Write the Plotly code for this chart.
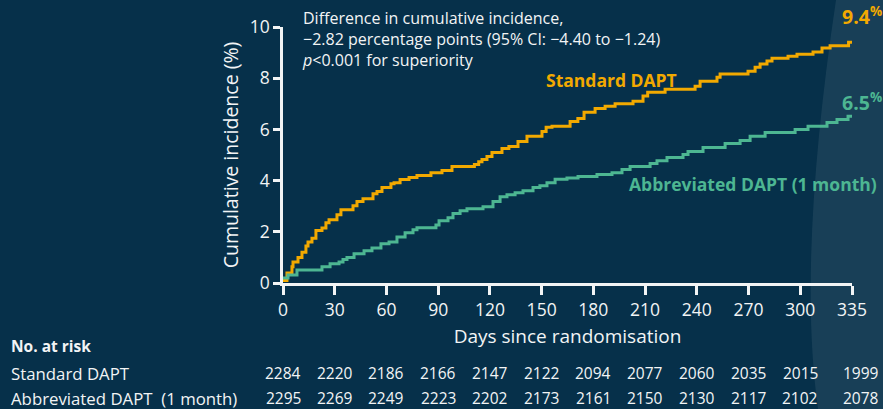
import plotly.graph_objects as go

# ---------------- data ----------------
std_days = [0, 2.3, 5.2, 5.8, 8.7, 11, 13.3, 14.5, 16.8, 19.1, 22.6, 24.9, 26.7, 31.3, 33.6,
            40.6, 42.9, 46.4, 52.2, 54.5, 57.4, 62.6, 64.4, 67.9, 73.1, 77.7, 85.8, 92.2, 98,
            111, 113.5, 115.4, 118.3, 121.2, 127, 131, 136.3, 141.5, 150.2, 152.6, 156, 166.5,
            171, 174.6, 181, 186.8, 192.6, 203, 208.8, 211.5, 221.6, 239, 241.9, 251.7, 253.5,
            269.7, 273.8, 276.7, 280.7, 283.6, 292.9, 298.1, 307.4, 312.6, 317.3, 328, 330]
std_pct = [0.1, 0.39, 0.63, 0.82, 1.0, 1.2, 1.45, 1.6, 1.75, 2.05, 2.15, 2.35, 2.47, 2.67, 2.86,
           3.02, 3.18, 3.29, 3.49, 3.57, 3.73, 3.88, 3.92, 4.04, 4.12, 4.2, 4.31, 4.39, 4.55,
           4.63, 4.74, 4.82, 4.94, 5.1, 5.25, 5.33, 5.53, 5.73, 5.92, 6.08, 6.12, 6.31,
           6.43, 6.67, 6.82, 6.9, 7.0, 7.1, 7.3, 7.45, 7.57, 7.69, 7.88, 8.04, 8.16,
           8.27, 8.43, 8.55, 8.67, 8.78, 8.86, 8.94, 9.02, 9.18, 9.27, 9.4, 9.4]

abb_days = [0, 2.9, 8.1, 22.6, 27.3, 32.5, 34.8, 37.1, 41.2, 47, 51.6, 56.8, 61.5, 66.1, 70.8,
            75.4, 77.7, 88.7, 90.5, 95.7, 98.6, 102.7, 106.7, 116, 121.8, 125.9, 129.9, 134.6,
            139.2, 145, 149, 153.1, 157.8, 164.7, 171.1, 182.1, 190.8, 196.6, 201.3, 212.9,
            216.9, 222.7, 232, 234.9, 243.6, 256.4, 265.1, 270.9, 279.6, 297, 304.5, 315.5,
            321.3, 327.7, 330]
abb_pct = [0.2, 0.31, 0.51, 0.63, 0.75, 0.82, 0.92, 1.0, 1.14, 1.26, 1.37, 1.53, 1.6, 1.8, 1.96,
           2.08, 2.16, 2.27, 2.43, 2.55, 2.71, 2.82, 2.9, 2.98, 3.18, 3.37, 3.45, 3.53,
           3.6, 3.73, 3.8, 3.92, 4.05, 4.1, 4.16, 4.24, 4.31, 4.43, 4.55, 4.67,
           4.78, 4.9, 5.02, 5.14, 5.29, 5.45, 5.57, 5.73, 5.88, 6.0, 6.12, 6.27,
           6.39, 6.51, 6.51]

x_tickvals = [0, 30, 60, 90, 120, 150, 180, 210, 240, 270, 300, 330]
x_ticktext = ["0", "30", "60", "90", "120", "150", "180", "210", "240", "270", "300", "335"]
y_tickvals = [0, 2, 4, 6, 8, 10]

risk_days = [0, 30, 60, 90, 120, 150, 180, 210, 240, 270, 300, 335]
risk_std = [2284, 2220, 2186, 2166, 2147, 2122, 2094, 2077, 2060, 2035, 2015, 1999]
risk_abb = [2295, 2269, 2249, 2223, 2202, 2173, 2161, 2150, 2130, 2117, 2102, 2078]

# ---------------- style ----------------
W, H = 883, 409
L, R, T, B = 283, 31, 27, 126
XMAX = 330
BG = "#06304a"
ORANGE = "#f2a900"
GREEN = "#4db692"
WHITE = "#f2f4f5"
FONT = "Open Sans"


def px(x):
    return (x - L) / (W - L - R)


def py(y):
    return (H - B - y) / (H - B - T)


fig = go.Figure()
fig.add_trace(go.Scatter(x=std_days, y=std_pct, mode="lines", line=dict(color=ORANGE, width=3, shape="hv"),
                         name="Standard DAPT", showlegend=False, hoverinfo="skip"))
fig.add_trace(go.Scatter(x=abb_days, y=abb_pct, mode="lines", line=dict(color=GREEN, width=3, shape="hv"),
                         name="Abbreviated DAPT (1 month)", showlegend=False, hoverinfo="skip"))

# lighter curved band on the right
band = (f"M {px(836)},{py(0)} Q {px(797)},{py(260)} {px(818)},{py(409)} "
        f"L {px(883)},{py(409)} L {px(883)},{py(0)} Z")
fig.add_shape(type="path", path=band, xref="paper", yref="paper", layer="below",
              fillcolor="rgba(255,255,255,0.075)", line=dict(width=0))

ann = []
ann.append(dict(text="Difference in cumulative incidence,<br>−2.82 percentage points (95% CI: −4.40 to −1.24)"
                     "<br><i>p</i><0.001 for superiority",
                x=px(300), y=py(5), xref="paper", yref="paper", xanchor="left", yanchor="top",
                align="left", showarrow=False, font=dict(family=FONT, size=16, color=WHITE)))
ann.append(dict(text="<b>Standard DAPT</b>", x=px(544), y=py(80), xref="paper", yref="paper",
                xanchor="left", yanchor="middle", showarrow=False,
                font=dict(family=FONT, size=17.5, color=ORANGE)))
ann.append(dict(text="<b>Abbreviated DAPT (1 month)</b>", x=px(627), y=py(184), xref="paper", yref="paper",
                xanchor="left", yanchor="middle", showarrow=False,
                font=dict(family=FONT, size=17.5, color=GREEN)))
ann.append(dict(text="<b>9.4<sup>%</sup></b>", x=px(884), y=py(15), xref="paper", yref="paper",
                xanchor="right", yanchor="middle", showarrow=False,
                font=dict(family=FONT, size=19.5, color=ORANGE)))
ann.append(dict(text="<b>6.5<sup>%</sup></b>", x=px(884), y=py(101), xref="paper", yref="paper",
                xanchor="right", yanchor="middle", showarrow=False,
                font=dict(family=FONT, size=19.5, color=GREEN)))
ann.append(dict(text="<b>No. at risk</b>", x=px(9), y=py(346), xref="paper", yref="paper",
                xanchor="left", yanchor="middle", showarrow=False,
                font=dict(family=FONT, size=15.5, color=WHITE)))
ann.append(dict(text="Standard DAPT", x=px(9), y=py(373), xref="paper", yref="paper",
                xanchor="left", yanchor="middle", showarrow=False,
                font=dict(family=FONT, size=16.8, color=WHITE)))
ann.append(dict(text="Abbreviated DAPT  (1 month)", x=px(9), y=py(398), xref="paper", yref="paper",
                xanchor="left", yanchor="middle", showarrow=False,
                font=dict(family=FONT, size=16.8, color=WHITE)))
for d, a, b in zip(risk_days, risk_std, risk_abb):
    ann.append(dict(text=str(a), x=d / XMAX, y=py(373), xref="paper", yref="paper", xanchor="center",
                    yanchor="middle", showarrow=False, font=dict(family=FONT, size=15.5, color=WHITE)))
    ann.append(dict(text=str(b), x=d / XMAX, y=py(398), xref="paper", yref="paper", xanchor="center",
                    yanchor="middle", showarrow=False, font=dict(family=FONT, size=15.5, color=WHITE)))

fig.update_layout(
    width=W, height=H,
    margin=dict(l=L, r=R, t=T, b=B, pad=0),
    paper_bgcolor=BG, plot_bgcolor=BG,
    font=dict(family=FONT, color=WHITE),
    annotations=ann,
    xaxis=dict(range=[0, XMAX], tickvals=x_tickvals, ticktext=x_ticktext, showgrid=False, zeroline=False,
               showline=True, linecolor=WHITE, linewidth=2.5, ticks="outside", ticklen=9, tickwidth=2.5,
               tickcolor=WHITE, tickfont=dict(family=FONT, size=17.5, color=WHITE),
               title=dict(text="Days since randomisation", font=dict(family=FONT, size=19, color=WHITE),
                          standoff=10)),
    yaxis=dict(range=[0, 10], tickvals=y_tickvals, showgrid=False, zeroline=False,
               showline=True, linecolor=WHITE, linewidth=2.5, ticks="outside", ticklen=7, tickwidth=2.5,
               tickcolor=WHITE, tickfont=dict(family=FONT, size=17.5, color=WHITE),
               title=dict(text="Cumulative incidence (%)", font=dict(family=FONT, size=19.5, color=WHITE),
                          standoff=6)),
)

fig.write_html("out.html", config={"displayModeBar": False},
               post_script="document.body.style.margin='0';document.body.style.overflow='hidden';")
